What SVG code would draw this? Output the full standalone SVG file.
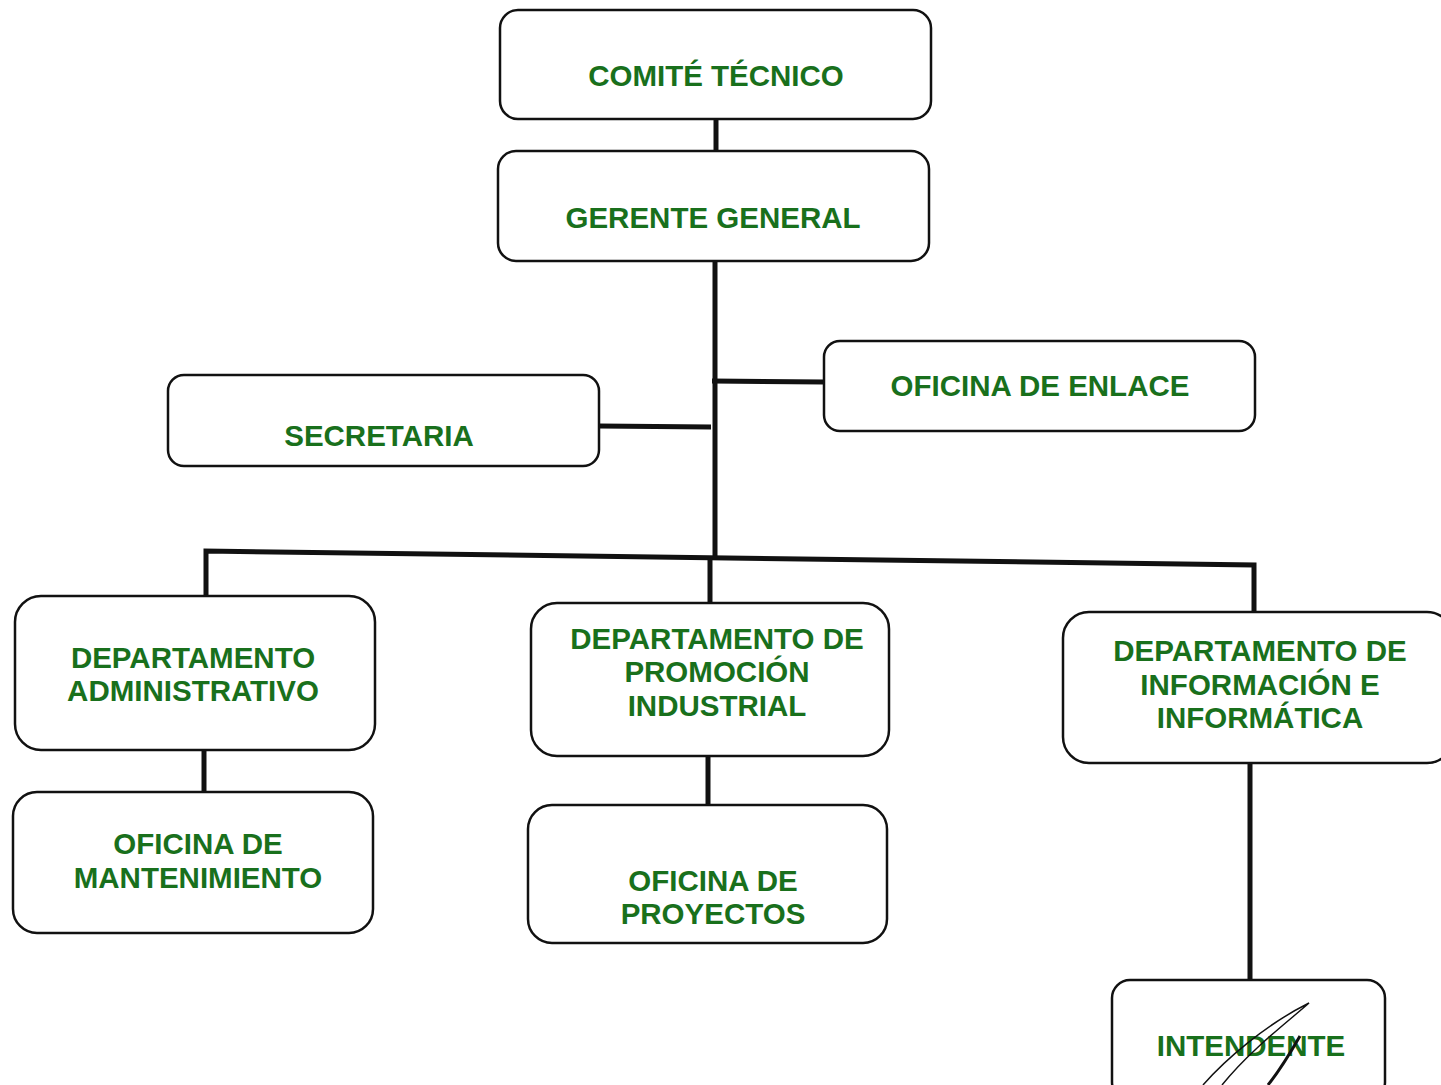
<svg xmlns="http://www.w3.org/2000/svg" width="1441" height="1085" viewBox="0 0 1441 1085">
<style>
.box{fill:#ffffff;stroke:#111111;stroke-width:2.5}
.lbl{font-family:"Liberation Sans",Arial,sans-serif;font-weight:bold;font-size:29.5px;fill:#19701c;text-anchor:middle}
.con{fill:none;stroke:#111111;stroke-width:5}
</style>
<rect width="1441" height="1085" fill="#ffffff"/>
<g id="connectors">
<path class="con" d="M716,119 L716,151"/>
<path class="con" d="M715,261 L715,558"/>
<path class="con" d="M712,381 L824,382"/>
<path class="con" d="M599,426 L711,427"/>
<path class="con" d="M206,597 L206,551 L1254,565 L1254,612"/>
<path class="con" d="M710,558 L710,603"/>
<path class="con" d="M204,749 L204,792"/>
<path class="con" d="M708,756 L708,805"/>
<path class="con" d="M1250,763 L1250,980"/>
</g>
<g id="comite">
<rect class="box" x="500" y="10" width="431" height="109" rx="18"/>
<text class="lbl" x="716" y="86">COMITÉ TÉCNICO</text>
</g>
<g id="gerente">
<rect class="box" x="498" y="151" width="431" height="110" rx="18"/>
<text class="lbl" x="713" y="228">GERENTE GENERAL</text>
</g>
<g id="enlace">
<rect class="box" x="824" y="341" width="431" height="90" rx="16"/>
<text class="lbl" x="1040" y="396">OFICINA DE ENLACE</text>
</g>
<g id="secretaria">
<rect class="box" x="168" y="375" width="431" height="91" rx="16"/>
<text class="lbl" x="379" y="446">SECRETARIA</text>
</g>
<g id="dep-admin">
<rect class="box" x="15" y="596" width="360" height="154" rx="26"/>
<text class="lbl" x="193" y="668">DEPARTAMENTO</text>
<text class="lbl" x="193" y="701">ADMINISTRATIVO</text>
</g>
<g id="dep-promocion">
<rect class="box" x="531" y="603" width="358" height="153" rx="26"/>
<text class="lbl" x="717" y="649">DEPARTAMENTO DE</text>
<text class="lbl" x="717" y="682">PROMOCIÓN</text>
<text class="lbl" x="717" y="716">INDUSTRIAL</text>
</g>
<g id="dep-informacion">
<rect class="box" x="1063" y="612" width="390" height="151" rx="26"/>
<text class="lbl" x="1260" y="661">DEPARTAMENTO DE</text>
<text class="lbl" x="1260" y="695">INFORMACIÓN E</text>
<text class="lbl" x="1260" y="728">INFORMÁTICA</text>
</g>
<g id="mantenimiento">
<rect class="box" x="13" y="792" width="360" height="141" rx="24"/>
<text class="lbl" x="198" y="854">OFICINA DE</text>
<text class="lbl" x="198" y="888">MANTENIMIENTO</text>
</g>
<g id="proyectos">
<rect class="box" x="528" y="805" width="359" height="138" rx="24"/>
<text class="lbl" x="713" y="891">OFICINA DE</text>
<text class="lbl" x="713" y="924">PROYECTOS</text>
</g>
<g id="intendente">
<rect class="box" x="1112" y="980" width="273" height="120" rx="18"/>
<text class="lbl" x="1251" y="1056">INTENDENTE</text>
</g>
<g id="signature" fill="none" stroke="#111111">
<path stroke-width="1.5" d="M1203,1085 C1225,1060 1265,1025 1309,1003 C1290,1020 1250,1050 1222,1085"/>
<path stroke-width="3" d="M1268,1085 C1280,1070 1292,1050 1300,1036"/>
</g>
</svg>
